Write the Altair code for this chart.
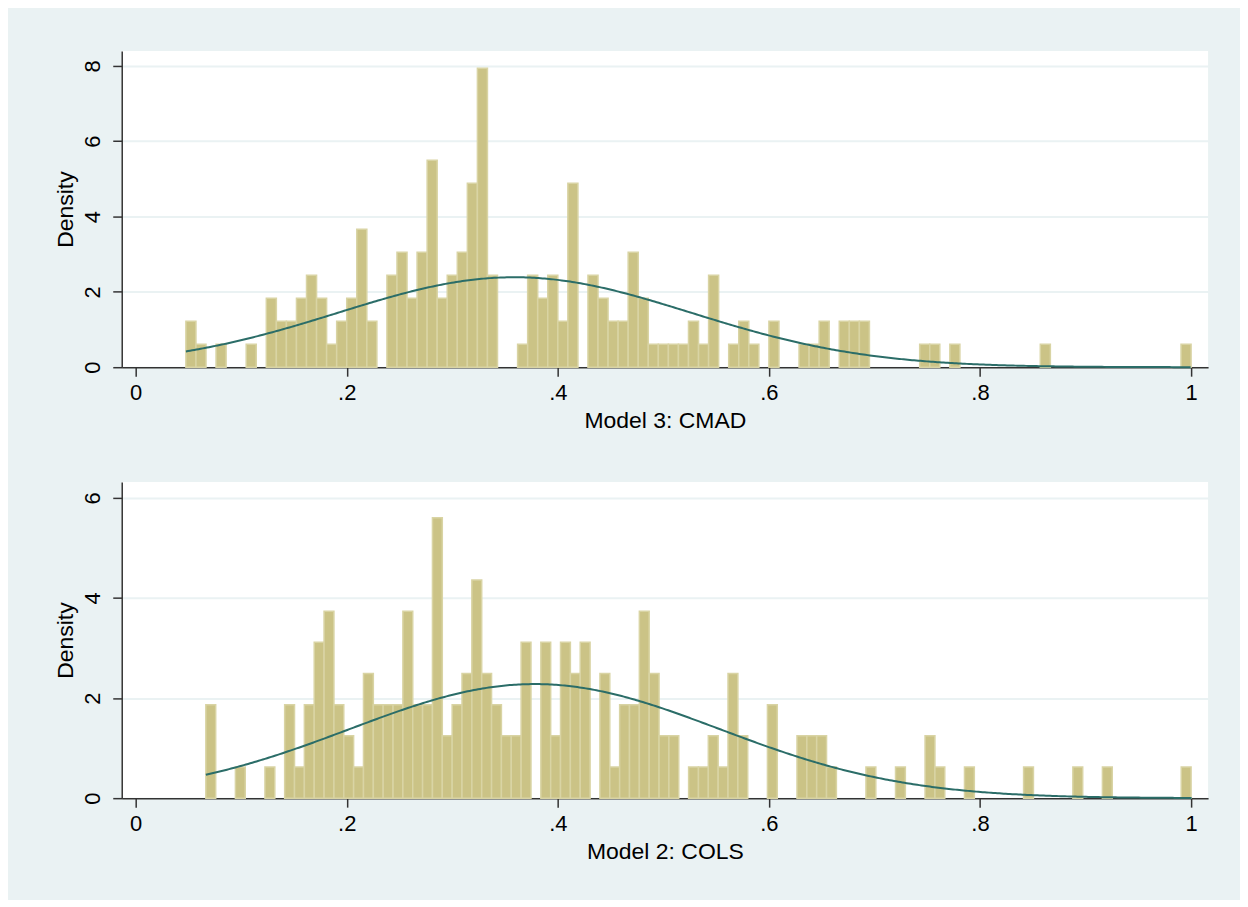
import altair as alt
import pandas as pd

FONT = "Liberation Sans"
BG = "#EAF2F3"
BAR_FILL = "#CBC386"
BAR_STROKE = "#D9D4A4"
LINE = "#2B6D68"
AXIS = "#333333"

N_OBS = 172
N_BINS = 100

x_ticks = [0, 0.2, 0.4, 0.6, 0.8, 1]
X_DOMAIN = [-0.0132, 1.0161]

# ---- top panel: Model 3: CMAD ----
top_label = "Model 3: CMAD"
top_min, top_max = 0.0476, 1.0
top_bins = [0, 1, 3, 6, 8, 9, 10, 11, 12, 13, 14, 15, 16, 17, 18, 20, 21, 22, 23, 24,
            25, 26, 27, 28, 29, 30, 33, 34, 35, 36, 37, 38, 40, 41, 42, 43, 44, 45, 46,
            47, 48, 49, 50, 51, 52, 54, 55, 56, 58, 61, 62, 63, 65, 66, 67, 73, 74, 76,
            85, 99]
top_counts = [2, 1, 1, 1, 3, 2, 2, 3, 4, 3, 1, 2, 3, 6, 2, 4, 5, 3, 5, 9,
              3, 4, 5, 8, 13, 4, 1, 4, 3, 4, 2, 8, 4, 3, 2, 2, 5, 3, 1,
              1, 1, 1, 2, 1, 4, 1, 2, 1, 2, 1, 1, 2, 2, 2, 2, 1, 1, 1,
              1, 1]
top_mean, top_sd = 0.359, 0.167
top_y_ticks = [0, 2, 4, 6, 8]
top_ymax = 8.397

# ---- bottom panel: Model 2: COLS ----
bot_label = "Model 2: COLS"
bot_min, bot_max = 0.0665, 1.0
bot_bins = [0, 3, 6, 8, 9, 10, 11, 12, 13, 14, 15, 16, 17, 18, 19, 20, 21, 22, 23, 24,
            25, 26, 27, 28, 29, 30, 31, 32, 34, 35, 36, 37, 38, 40, 41, 42, 43, 44, 45,
            46, 47, 49, 50, 51, 52, 53, 54, 57, 60, 61, 62, 63, 67, 70, 73, 74, 77, 83,
            88, 91, 99]
bot_counts = [3, 1, 1, 3, 1, 3, 5, 6, 3, 2, 1, 4, 3, 3, 3, 6, 3, 3, 9, 2,
              3, 4, 7, 4, 3, 2, 2, 5, 5, 2, 5, 4, 5, 4, 1, 3, 3, 6, 4,
              2, 2, 1, 1, 2, 1, 4, 2, 3, 2, 2, 2, 1, 1, 1, 2, 1, 1, 1,
              1, 1, 1]
bot_mean, bot_sd = 0.378, 0.175
bot_y_ticks = [0, 2, 4, 6]
bot_ymax = 6.319


def panel(label, vmin, vmax, bins, counts, mean, sd, y_ticks, ymax):
    w = (vmax - vmin) / N_BINS
    df = pd.DataFrame({"bin": bins, "count": counts})
    df["x0"] = vmin + df["bin"] * w
    df["x1"] = df["x0"] + w
    df["density"] = df["count"] / (N_OBS * w)
    df["base"] = 0.0

    xscale = alt.Scale(domain=X_DOMAIN, nice=False, zero=False)
    yscale = alt.Scale(domain=[0, ymax], nice=False, zero=True)
    xaxis = alt.Axis(title=label, values=x_ticks, format=".1~f",
                     labelExpr="replace(datum.label, '0.', '.')",
                     grid=False, labelPadding=6, titlePadding=6)
    yaxis = alt.Axis(title="Density", values=y_ticks, grid=True, gridColor=BG,
                     gridWidth=2, labelAngle=270, labelAlign="center",
                     labelBaseline="bottom", labelPadding=8, titlePadding=4)

    bars = alt.Chart(df).mark_rect(fill=BAR_FILL, stroke=BAR_STROKE, strokeWidth=1.5).encode(
        x=alt.X("x0:Q", scale=xscale, axis=xaxis),
        x2="x1:Q",
        y=alt.Y("density:Q", scale=yscale, axis=yaxis),
        y2="base:Q",
    )
    step = 0.002
    curve = alt.Chart(alt.sequence(vmin, vmax + step / 2, step, as_="x")).transform_calculate(
        density=f"exp(-0.5*pow((datum.x-{mean})/{sd},2))/({sd}*sqrt(2*PI))"
    ).mark_line(color=LINE, strokeWidth=2).encode(
        x=alt.X("x:Q", scale=xscale),
        y=alt.Y("density:Q", scale=yscale),
    )
    return alt.layer(bars, curve).properties(width=1089, height=317)


top = panel(top_label, top_min, top_max, top_bins, top_counts, top_mean, top_sd,
            top_y_ticks, top_ymax)
bot = panel(bot_label, bot_min, bot_max, bot_bins, bot_counts, bot_mean, bot_sd,
            bot_y_ticks, bot_ymax)

chart = alt.vconcat(top, bot, spacing=50).properties(
    background=BG,
    padding={"left": 46, "top": 42, "right": 32, "bottom": 36},
).configure_view(
    fill="white", strokeWidth=0
).configure_axis(
    domainColor=AXIS, domainWidth=1.5, tickColor=AXIS, tickWidth=1.5, tickSize=9,
    labelFont=FONT, labelFontSize=22, labelColor="black",
    titleFont=FONT, titleFontSize=23, titleColor="black", titleFontWeight="normal",
)

chart.save("out.html", embed_options={"renderer": "svg", "actions": False})
